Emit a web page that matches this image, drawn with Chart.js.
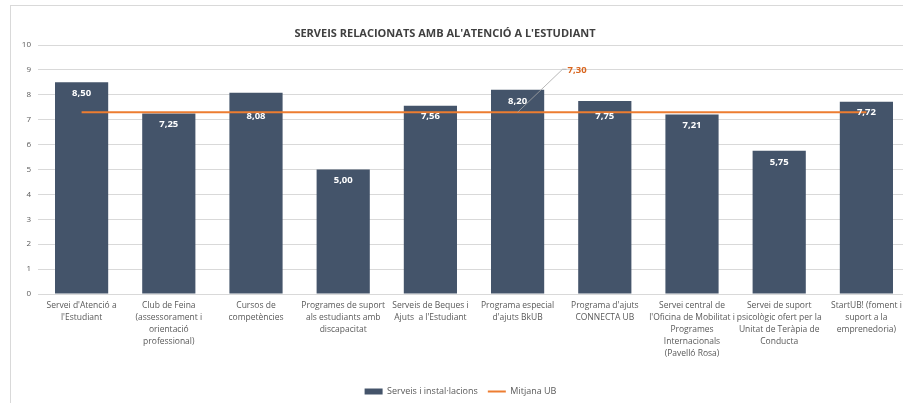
<!DOCTYPE html>
<html>
<head>
<meta charset="utf-8">
<script src="https://cdn.jsdelivr.net/npm/chart.js@4"></script>
<style>
  html, body { margin: 0; padding: 0; background: #fff; overflow: hidden; }
  .box { position: absolute; left: 10px; top: 5px; width: 915px; height: 400px; border: 1px solid #d9d9d9; }
  canvas { display: block; }
</style>
</head>
<body>
<div class="box"><canvas id="chart" width="915" height="400"></canvas></div>
<script>
// Serveis i instal·lacions: valoració mitjana per servei
const categories = [
  ["Servei d'Atenció a", "l'Estudiant"],
  ["Club de Feina", "(assessorament i", "orientació", "professional)"],
  ["Cursos de", "competències"],
  ["Programes de suport", "als estudiants amb", "discapacitat"],
  ["Serveis de Beques i", "Ajuts  a l'Estudiant"],
  ["Programa especial", "d'ajuts BkUB"],
  ["Programa d'ajuts", "CONNECTA UB"],
  ["Servei central de", "l'Oficina de Mobilitat i", "Programes", "Internacionals", "(Pavelló Rosa)"],
  ["Servei de suport", "psicològic ofert per la", "Unitat de Teràpia de", "Conducta"],
  ["StartUB! (foment i", "suport a la", "emprenedoria)"],
];
const scores = [8.50, 7.25, 8.08, 5.00, 7.56, 8.20, 7.75, 7.21, 5.75, 7.72];
const meanUB = [7.30, 7.30, 7.30, 7.30, 7.30, 7.30, 7.30, 7.30, 7.30, 7.30];
const yTicks = [0, 1, 2, 3, 4, 5, 6, 7, 8, 9, 10];

const chartTitle = "SERVEIS RELACIONATS AMB AL'ATENCIÓ A L'ESTUDIANT";
const BAR = "#44546A";
const ORANGE = "#ED7D31";
const FONT = "'Open Sans', sans-serif";

const fmt = (v) => v.toFixed(2).replace(".", ",");

// title, labels dins les barres i etiqueta de la mitjana
const decorations = {
  id: "decorations",
  beforeDraw(chart) {
    const ctx = chart.ctx;
    ctx.save();
    ctx.font = "bold 11px " + FONT;
    ctx.fillStyle = "#404040";
    ctx.textAlign = "center";
    ctx.textBaseline = "middle";
    ctx.fillText(chartTitle, 434, 28);
    ctx.restore();
  },
  afterDatasetsDraw(chart, args, opts) {
    const ctx = chart.ctx;
    ctx.save();
    ctx.font = "bold 9.5px " + FONT;
    ctx.fillStyle = "#ffffff";
    ctx.textAlign = "center";
    ctx.textBaseline = "middle";
    chart.getDatasetMeta(0).data.forEach((bar, i) => {
      const dy = opts.nudge[i] || 0;
      ctx.fillText(fmt(scores[i]), bar.x, bar.y + 11 + dy);
    });

    // callout de la mitjana
    const p = chart.getDatasetMeta(1).data[opts.calloutIndex];
    const x1 = p.x + 45, y1 = p.y - 43;
    ctx.strokeStyle = "#a6a6a6";
    ctx.lineWidth = 0.8;
    ctx.beginPath();
    ctx.moveTo(p.x, p.y);
    ctx.lineTo(x1, y1);
    ctx.lineTo(x1 + 4, y1);
    ctx.stroke();
    ctx.fillStyle = "#D9661F";
    ctx.textAlign = "left";
    ctx.fillText(fmt(meanUB[opts.calloutIndex]), x1 + 5, y1 + 1);
    ctx.restore();
  },
};

const ctx = document.getElementById("chart").getContext("2d");
new Chart(ctx, {
  type: "bar",
  data: {
    labels: categories,
    datasets: [
      {
        type: "bar",
        label: "Serveis i instal·lacions",
        data: scores,
        backgroundColor: BAR,
        categoryPercentage: 1,
        barPercentage: 0.61,
        order: 2,
      },
      {
        type: "line",
        label: "Mitjana UB",
        data: meanUB,
        borderColor: ORANGE,
        borderWidth: 2,
        pointRadius: 0,
        fill: false,
        order: 1,
      },
    ],
  },
  options: {
    responsive: false,
    animation: false,
    layout: { padding: { top: 39, right: 16, left: 0, bottom: 0 } },
    plugins: {
      tooltip: { enabled: false },
      decorations: { nudge: [0, 0, 12, 0, 0, 0, 4, 0, 0, 0], calloutIndex: 5 },
      legend: {
        position: "bottom",
        labels: {
          usePointStyle: true,
          pointStyleWidth: 18,
          boxHeight: 6,
          padding: 10,
          color: "#595959",
          font: { family: "Open Sans", size: 9 },
          generateLabels(chart) {
            return chart.data.datasets.map((ds, i) => ({
              text: ds.label,
              datasetIndex: i,
              pointStyle: ds.type === "line" ? "line" : "rect",
              fillStyle: ds.type === "line" ? ORANGE : BAR,
              strokeStyle: ds.type === "line" ? ORANGE : BAR,
              lineWidth: ds.type === "line" ? 2 : 0,
              fontColor: "#595959",
            }));
          },
        },
      },
    },
    scales: {
      x: {
        grid: { display: false, drawTicks: false },
        border: { color: "#d9d9d9" },
        afterFit: (s) => { s.height = 83; },
        ticks: {
          autoSkip: false,
          maxRotation: 0,
          padding: 6,
          color: "#595959",
          font: { family: "Open Sans", size: 8.5, lineHeight: 1.4 },
        },
      },
      y: {
        min: 0,
        max: 10,
        afterBuildTicks: (s) => { s.ticks = yTicks.map((v) => ({ value: v })); },
        afterFit: (s) => { s.width = 27; },
        grid: { color: "#d9d9d9", drawTicks: false },
        border: { display: false },
        ticks: {
          padding: 7,
          color: "#595959",
          font: { family: "Open Sans", size: 8 },
        },
      },
    },
  },
  plugins: [decorations],
});
</script>
</body>
</html>
